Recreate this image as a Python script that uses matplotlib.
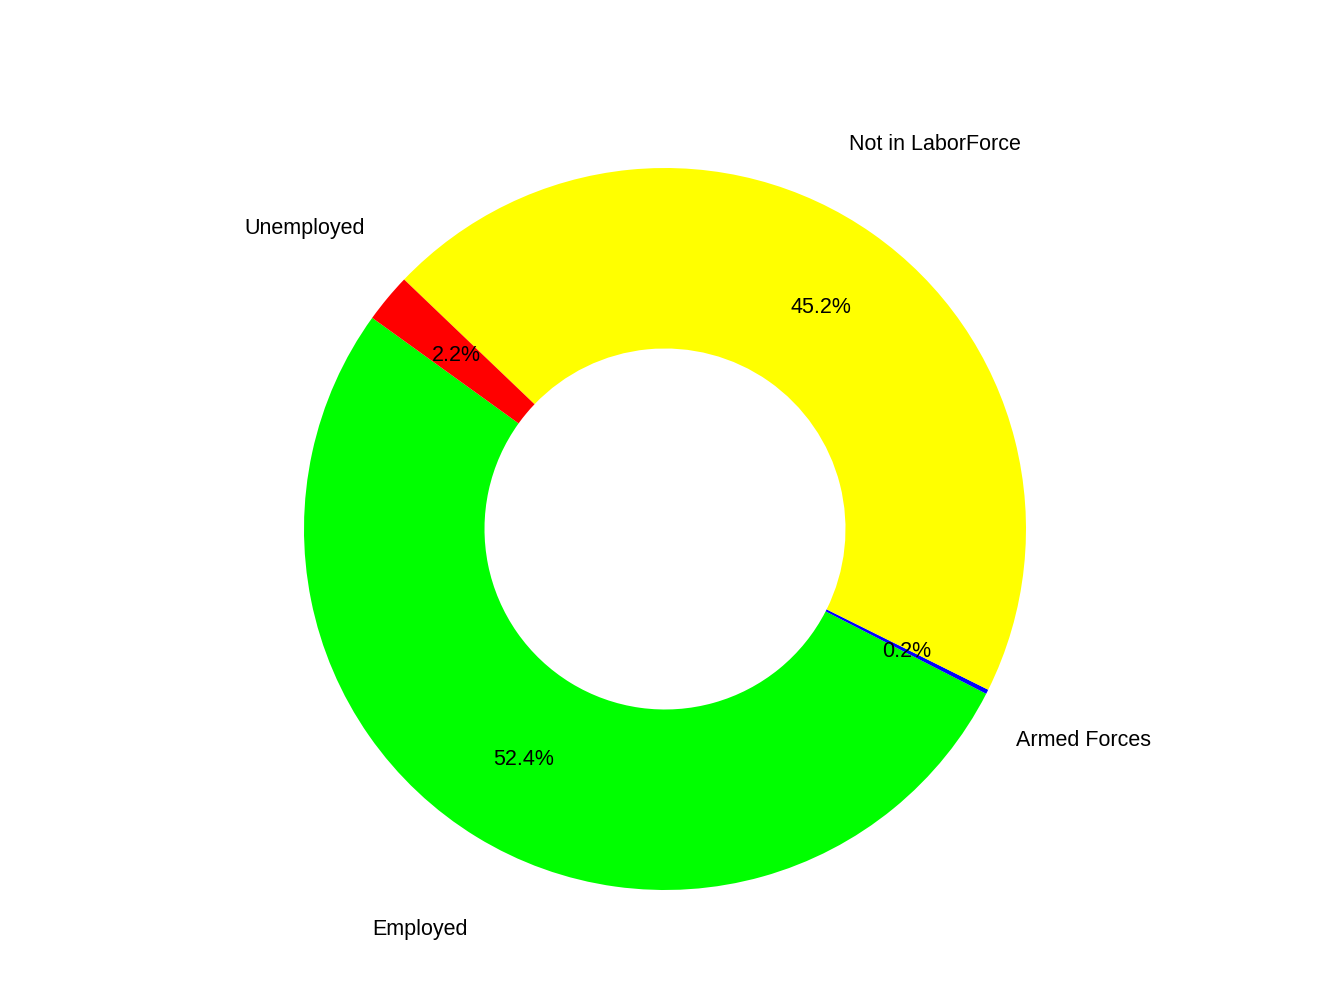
import matplotlib
matplotlib.use("Agg")
import matplotlib.pyplot as plt

labels = ["Employed", "Armed Forces", "Not in LaborForce", "Unemployed"]
values = [52.4, 0.2, 45.2, 2.2]
colors = ["#00ff00", "#0000ff", "#ffff00", "#ff0000"]

plt.rcParams["font.family"] = "Liberation Sans"
fig = plt.figure(figsize=(13.44, 10.08), dpi=100)
ax = fig.add_axes([0, 0, 1, 1])
R = 361.0
cx, cy = 665.0, 1008 - 529.0
ax.pie(values, labels=labels, colors=colors, startangle=144.2, counterclock=True,
       autopct="%1.1f%%", pctdistance=0.75, labeldistance=1.3,
       wedgeprops=dict(width=0.5, linewidth=0),
       textprops=dict(fontsize=15.5, color="black"))
for t in ax.texts:
    t.set_ha("center")
ax.set_xlim(-cx / R, (1344 - cx) / R)
ax.set_ylim(-cy / R, (1008 - cy) / R)
ax.set_aspect("auto")
ax.axis("off")
fig.savefig("out.png", dpi=100)
